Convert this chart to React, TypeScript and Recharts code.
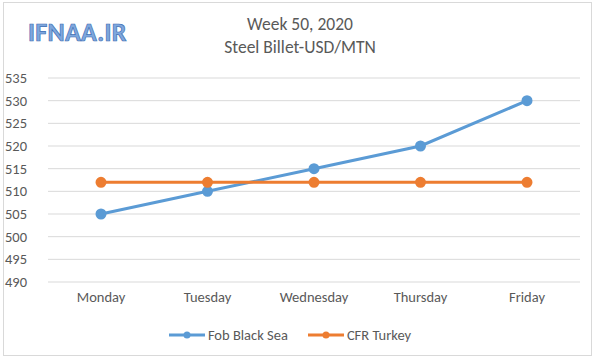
import React from 'react';
import { LineChart, Line, XAxis, YAxis, CartesianGrid, Legend } from 'recharts';

const days = ['Monday', 'Tuesday', 'Wednesday', 'Thursday', 'Friday'];
const fobBlackSea = [505, 510, 515, 520, 530];
const cfrTurkey = [512, 512, 512, 512, 512];
const yTicks = [490, 495, 500, 505, 510, 515, 520, 525, 530, 535];

const data = days.map((day, i) => ({ day, fob: fobBlackSea[i], cfr: cfrTurkey[i] }));

const font = 'Carlito, "Open Sans", "Noto Sans", sans-serif';
const grey = '#595959';

const legendItems = [
    { label: 'Fob Black Sea', color: '#5b9bd5' },
    { label: 'CFR Turkey', color: '#ed7d31' },
];

function LegendContent() {
    return (
        <div style={{ display: 'flex', justifyContent: 'center', gap: 20, fontSize: 14.5, color: grey, fontFamily: font }}>
            {legendItems.map((it) => (
                <div key={it.label} style={{ display: 'flex', alignItems: 'center', gap: 3 }}>
                    <svg width={36} height={10}>
                        <line x1={0} y1={5} x2={36} y2={5} stroke={it.color} strokeWidth={3} />
                        <circle cx={18} cy={5} r={3.5} fill={it.color} />
                    </svg>
                    <span>{it.label}</span>
                </div>
            ))}
        </div>
    );
}

export default function App() {
    return (
        <div style={{ position: 'absolute', left: 0, top: 0, width: 600, height: 360, background: '#fff', fontFamily: font }}>
            <div style={{ position: 'absolute', left: 3, top: 2, width: 589, height: 354, border: '1px solid #d9d9d9', boxSizing: 'border-box' }} />
            <div
                style={{
                    position: 'absolute', left: 28, top: 17, fontSize: 26, lineHeight: '30px', fontWeight: 700, color: '#7ea7dd',
                    WebkitTextStroke: '0.7px #3f6fb5', letterSpacing: 0.3,
                }}
            >
                IFNAA.IR
            </div>
            <div style={{ position: 'absolute', left: 0, top: 13, width: 600, textAlign: 'center', color: grey, fontSize: 17.5, lineHeight: '23px' }}>
                <div>Week 50, 2020</div>
                <div>Steel Billet-USD/MTN</div>
            </div>
            <LineChart width={600} height={360} data={data} margin={{ top: 78, right: 20, bottom: 10, left: 0 }} style={{ position: 'absolute', left: 0, top: 0 }}>
                <CartesianGrid vertical={false} stroke="#d9d9d9" />
                <XAxis
                    dataKey="day"
                    axisLine={false}
                    tickLine={false}
                    tickMargin={4}
                    height={30}
                    padding={{ left: 53, right: 53 }}
                    tick={{ fill: grey, fontSize: 14.5, fontFamily: font }}
                />
                <YAxis
                    domain={[490, 535]}
                    ticks={yTicks}
                    width={48}
                    axisLine={false}
                    tickLine={false}
                    tickMargin={15}
                    interval={0}
                    tick={{ fill: grey, fontSize: 14.5, fontFamily: font }}
                />
                <Legend
                    verticalAlign="bottom"
                    content={<LegendContent />}
                    wrapperStyle={{ height: 38, paddingTop: 14, boxSizing: 'border-box' }}
                />
                <Line name="Fob Black Sea" dataKey="fob" stroke="#5b9bd5" strokeWidth={3} dot={{ r: 4, fill: '#5b9bd5', stroke: '#5b9bd5' }} isAnimationActive={false} />
                <Line name="CFR Turkey" dataKey="cfr" stroke="#ed7d31" strokeWidth={3} dot={{ r: 4, fill: '#ed7d31', stroke: '#ed7d31' }} isAnimationActive={false} />
            </LineChart>
        </div>
    );
}
